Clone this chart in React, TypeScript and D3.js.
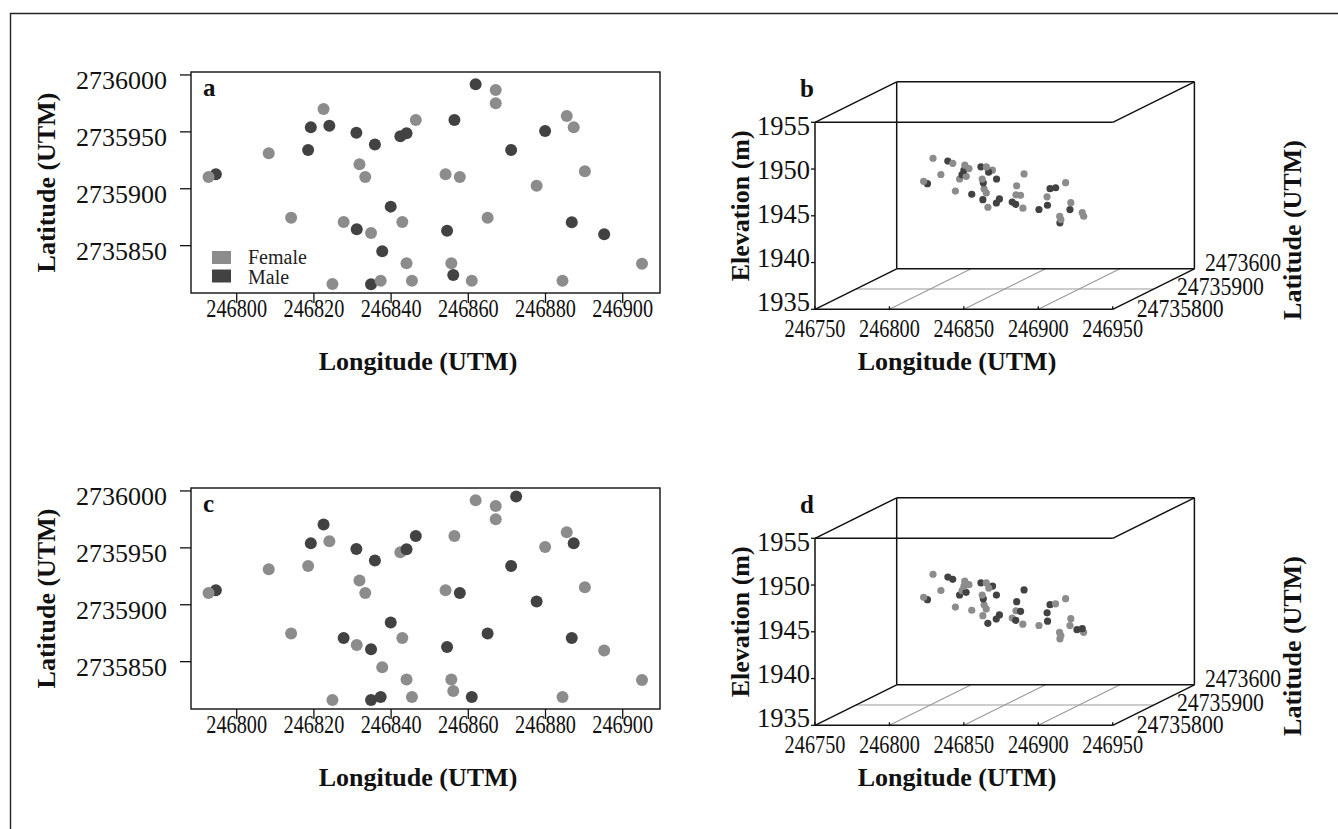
import React from 'react';
import * as d3 from 'd3';

const W = 1338;
const H = 829;
const FONT = '"Liberation Serif", "Times New Roman", serif';
const FEMALE = '#8c8c8c';
const MALE = '#424242';

// ---- tick values ----
const lonTicks2D = [246800, 246820, 246840, 246860, 246880, 246900];
const latTicks2D = [2735850, 2735900, 2735950, 2736000];
const lonTicks3D = [246750, 246800, 246850, 246900, 246950];
const elevTicks3D = [1935, 1940, 1945, 1950, 1955];
const latTicks3D = [2735800, 2735900, 2736000];
const latTickLabels3D = ['24735800', '24735900', '2473600'];
const sexLabels = ['Female', 'Male'];

// ---- panel a / b data ----
const aLon = [246861.9, 246867.1, 246867.1, 246822.5, 246819.2, 246824.0, 246831.0, 246835.8, 246842.4, 246844.0,
  246846.4, 246856.4, 246871.1, 246808.3, 246818.5, 246794.6, 246792.7, 246831.8, 246833.3, 246854.1,
  246857.8, 246839.9, 246814.1, 246827.7, 246831.1, 246834.8, 246842.9, 246854.5, 246865.0, 246837.7,
  246844.0, 246855.6, 246856.1, 246824.8, 246834.8, 246837.3, 246845.4, 246860.9, 246885.5, 246887.3,
  246879.9, 246890.2, 246877.7, 246886.8, 246895.2, 246905.0, 246884.4];
const aLat = [2735991.8, 2735986.8, 2735975.1, 2735970.1, 2735954.0, 2735955.4, 2735949.3, 2735938.8, 2735946.1, 2735948.8,
  2735960.5, 2735960.5, 2735934.1, 2735931.2, 2735934.1, 2735912.7, 2735910.4, 2735921.5, 2735910.4, 2735912.7,
  2735910.4, 2735884.3, 2735874.6, 2735870.8, 2735864.4, 2735861.2, 2735870.8, 2735863.2, 2735874.6, 2735845.1,
  2735834.5, 2735834.5, 2735824.3, 2735816.3, 2735816.1, 2735819.2, 2735819.2, 2735819.2, 2735964.0, 2735954.0,
  2735950.8, 2735915.4, 2735902.7, 2735870.6, 2735860.0, 2735834.2, 2735819.2];
const aSex = ['M', 'F', 'F', 'F', 'M', 'M', 'M', 'M', 'M', 'M',
  'F', 'M', 'M', 'F', 'M', 'M', 'F', 'F', 'F', 'F',
  'F', 'M', 'F', 'F', 'M', 'F', 'F', 'M', 'F', 'M',
  'F', 'F', 'M', 'F', 'M', 'F', 'F', 'F', 'F', 'F',
  'M', 'F', 'F', 'M', 'M', 'F', 'F'];
const aElev = [1940.1, 1944.5, 1940.8, 1946.2, 1946.9, 1946.3, 1945.7, 1943.8, 1943.3, 1943.0,
  1946.0, 1942.2, 1945.0, 1944.8, 1944.4, 1946.0, 1946.3, 1947.6, 1945.5, 1944.8,
  1944.8, 1946.7, 1947.8, 1947.4, 1948.0, 1947.9, 1947.4, 1945.0, 1946.6, 1948.9,
  1949.3, 1946.7, 1946.2, 1950.8, 1950.5, 1950.2, 1950.0, 1945.5, 1941.4, 1942.0,
  1942.4, 1943.9, 1944.8, 1944.6, 1946.7, 1944.2, 1945.4];

// ---- panel c / d data ----
const cLon = [246861.9, 246867.1, 246867.1, 246872.4, 246822.5, 246819.2, 246824.0, 246831.0, 246835.8, 246842.4,
  246844.0, 246846.4, 246856.4, 246871.1, 246808.3, 246818.5, 246794.6, 246792.7, 246831.8, 246833.3,
  246854.1, 246857.8, 246839.9, 246814.1, 246827.7, 246831.1, 246834.8, 246842.9, 246854.5, 246865.0,
  246837.7, 246844.0, 246855.6, 246856.1, 246824.8, 246834.8, 246837.3, 246845.4, 246860.9, 246885.5,
  246887.3, 246879.9, 246890.2, 246877.7, 246886.8, 246895.2, 246905.0, 246884.4];
const cLat = [2735991.8, 2735986.8, 2735975.1, 2735995.2, 2735970.5, 2735954.0, 2735955.8, 2735949.0, 2735938.8, 2735946.1,
  2735948.8, 2735960.5, 2735960.5, 2735934.1, 2735931.2, 2735934.1, 2735912.7, 2735910.4, 2735921.3, 2735910.4,
  2735912.7, 2735910.4, 2735884.4, 2735874.7, 2735870.8, 2735864.7, 2735860.9, 2735870.8, 2735862.9, 2735874.7,
  2735845.1, 2735834.3, 2735834.3, 2735824.3, 2735816.3, 2735816.3, 2735819.0, 2735819.0, 2735819.0, 2735963.7,
  2735954.0, 2735950.8, 2735915.4, 2735902.8, 2735870.8, 2735859.8, 2735833.9, 2735819.0];
const cSex = ['F', 'F', 'F', 'M', 'M', 'M', 'F', 'M', 'M', 'F',
  'M', 'M', 'F', 'M', 'F', 'F', 'M', 'F', 'F', 'F',
  'F', 'M', 'M', 'F', 'M', 'F', 'M', 'F', 'M', 'M',
  'F', 'F', 'F', 'F', 'F', 'M', 'M', 'F', 'M', 'F',
  'M', 'F', 'F', 'M', 'M', 'F', 'F', 'F'];
const cElev = [1940.1, 1944.5, 1940.8, 1941.0, 1946.2, 1946.9, 1946.3, 1945.7, 1943.8, 1943.3,
  1943.0, 1946.0, 1942.2, 1945.0, 1944.8, 1944.4, 1946.0, 1946.3, 1947.6, 1945.5,
  1944.8, 1944.8, 1946.7, 1947.8, 1947.4, 1948.0, 1947.9, 1947.4, 1945.0, 1946.6,
  1948.9, 1949.3, 1946.7, 1946.2, 1950.8, 1950.5, 1950.2, 1950.0, 1945.5, 1941.4,
  1942.0, 1942.4, 1943.9, 1944.8, 1944.6, 1946.7, 1944.2, 1945.4];

const sexColor = (s: string) => (s === 'F' ? FEMALE : MALE);

function Panel2D({ dy, lon, lat, sex, letter, legend }: any) {
  const x = d3.scaleLinear().domain([246788.16, 246909.66]).range([191, 660]);
  const y = d3.scaleLinear().domain([2735808.4, 2736002.6]).range([293 + dy, 72 + dy]);
  const [x0, x1] = x.range();
  const [y0, y1] = y.range(); // y0 bottom, y1 top
  return (
    <g>
      <rect x={x0} y={y1} width={x1 - x0} height={y0 - y1} fill="none" stroke="#111" strokeWidth={1.4} />
      {lonTicks2D.map((t) => (
        <g key={'xt' + t}>
          <line x1={x(t)} x2={x(t)} y1={y0} y2={y0 + 10} stroke="#111" strokeWidth={1.3} />
          <text transform={`translate(${x(t)},${y0 + 24}) scale(0.78,1)`} textAnchor="middle" fontSize={26} fontFamily={FONT} fill="#111">{t}</text>
        </g>
      ))}
      {latTicks2D.map((t) => (
        <g key={'yt' + t}>
          <line x1={x0 - 11} x2={x0} y1={y(t)} y2={y(t)} stroke="#111" strokeWidth={1.3} />
          <text x={x0 - 24} y={y(t) + 14} textAnchor="end" fontSize={26} fontFamily={FONT} fill="#111">{t}</text>
        </g>
      ))}
      {lon.map((v: number, i: number) => (
        <circle key={i} cx={x(v)} cy={y(lat[i])} r={6} fill={sexColor(sex[i])} />
      ))}
      <text x={203} y={96 + dy} fontSize={25} fontWeight="bold" fontFamily={FONT} fill="#111">{letter}</text>
      {legend && (
        <g>
          {sexLabels.map((s, i) => (
            <g key={s}>
              <rect x={212} y={251 + dy + i * 18.5} width={19} height={13} fill={i === 0 ? FEMALE : MALE} />
              <text x={248} y={264 + dy + i * 20} fontSize={20} fontFamily={FONT} fill="#222">{s}</text>
            </g>
          ))}
        </g>
      )}
      <text x={418} y={370 + dy} textAnchor="middle" fontSize={26} fontWeight="bold" fontFamily={FONT} fill="#111">Longitude (UTM)</text>
      <text transform={`translate(55,${182.5 + dy}) rotate(-90)`} textAnchor="middle" fontSize={26} fontWeight="bold" fontFamily={FONT} fill="#111">Latitude (UTM)</text>
    </g>
  );
}

function Panel3D({ dy, lon, lat, sex, elev, letter }: any) {
  const x = d3.scaleLinear().domain([246750, 246950]).range([815, 1112.7]);
  const z = d3.scaleLinear().domain([1935, 1955]).range([309.3 + dy, 122.3 + dy]);
  // label baselines sit on a slightly compressed scale in the reference
  const zLab = d3.scaleLinear().domain([1935, 1955]).range([310.7 + dy, 135 + dy]);
  const f = d3.scaleLinear().domain([2735800, 2736000]).range([0, 1]);
  const DX = 81.7;
  const DY = -40.5;
  const P = (lo: number, la: number, el: number): [number, number] => [x(lo) + f(la) * DX, z(el) + f(la) * DY];
  const xl = 246750, xr = 246950, zb = 1935, zt = 1955, lf = 2735800, lb = 2736000;
  const seg = (a: [number, number], b: [number, number], key: string, stroke = '#111', w = 1.5) => (
    <line key={key} x1={a[0]} y1={a[1]} x2={b[0]} y2={b[1]} stroke={stroke} strokeWidth={w} />
  );
  const lblOff = [[24, 7.4], [23.4, 6], [10.6, 1.9]];
  return (
    <g>
      {/* grid on floor */}
      {lonTicks3D.slice(1, -1).map((t) => seg(P(t, lf, zb), P(t, lb, zb), 'gx' + t, '#999', 1.1))}
      {latTicks3D.slice(1, -1).map((t) => seg(P(xl, t, zb), P(xr, t, zb), 'gy' + t, '#999', 1.1))}
      {/* box */}
      {seg(P(xl, lf, zb), P(xl, lf, zt), 'b1')}
      {seg(P(xl, lf, zt), P(xr, lf, zt), 'b2')}
      {seg(P(xl, lf, zb), P(xr, lf, zb), 'b3')}
      {seg(P(xl, lf, zt), P(xl, lb, zt), 'b4')}
      {seg(P(xr, lf, zt), P(xr, lb, zt), 'b5')}
      {seg(P(xl, lf, zb), P(xl, lb, zb), 'b6')}
      {seg(P(xr, lf, zb), P(xr, lb, zb), 'b7')}
      {seg(P(xl, lb, zt), P(xr, lb, zt), 'b8')}
      {seg(P(xl, lb, zb), P(xl, lb, zt), 'b9')}
      {seg(P(xl, lb, zb), P(xr, lb, zb), 'b10')}
      {seg(P(xr, lb, zb), P(xr, lb, zt), 'b11')}
      {/* x ticks */}
      {lonTicks3D.map((t) => (
        <g key={'xt' + t}>
          <line x1={x(t)} x2={x(t)} y1={z(zb)} y2={z(zb) - 3} stroke="#111" strokeWidth={1.3} />
          <text transform={`translate(${x(t)},${z(zb) + 27.2}) scale(0.78,1)`} textAnchor="middle" fontSize={26} fontFamily={FONT} fill="#111">{t}</text>
        </g>
      ))}
      {/* z ticks */}
      {elevTicks3D.map((t) => (
        <g key={'zt' + t}>
          <line x1={x(xl) - 4} x2={x(xl)} y1={z(t)} y2={z(t)} stroke="#111" strokeWidth={1.3} />
          <text x={x(xl) - 5} y={zLab(t)} textAnchor="end" fontSize={26.5} fontFamily={FONT} fill="#111">{t}</text>
        </g>
      ))}
      {/* depth tick labels */}
      {latTicks3D.map((t, i) => {
        const p = P(xr, t, zb);
        return (
          <text key={'dt' + t} transform={`translate(${p[0] + lblOff[i][0]},${p[1] + lblOff[i][1]}) scale(0.87,1)`} fontSize={25} fontFamily={FONT} fill="#111">{latTickLabels3D[i]}</text>
        );
      })}
      {lon.map((v: number, i: number) => {
        const p = P(v, lat[i], elev[i]);
        return <circle key={i} cx={p[0]} cy={p[1]} r={3.6} fill={sexColor(sex[i])} />;
      })}
      <text x={800} y={96.7 + dy} fontSize={25} fontWeight="bold" fontFamily={FONT} fill="#111">{letter}</text>
      <text x={957} y={370 + dy} textAnchor="middle" fontSize={26} fontWeight="bold" fontFamily={FONT} fill="#111">Longitude (UTM)</text>
      <text transform={`translate(749,${205.8 + dy}) rotate(-90)`} textAnchor="middle" fontSize={26} fontWeight="bold" fontFamily={FONT} fill="#111">Elevation (m)</text>
      <text transform={`translate(1301,${230 + dy}) rotate(-90)`} textAnchor="middle" fontSize={26} fontWeight="bold" fontFamily={FONT} fill="#111">Latitude (UTM)</text>
    </g>
  );
}

export default function App() {
  return (
    <svg width={W} height={H} style={{ position: 'absolute', left: 0, top: 0, background: '#fff' }}>
      <rect x={0} y={0} width={W} height={H} fill="#fff" />
      <path d={`M10.5,${H} V13.5 H${W}`} fill="none" stroke="#222" strokeWidth={1.4} />
      <Panel2D dy={0} lon={aLon} lat={aLat} sex={aSex} letter="a" legend />
      <Panel3D dy={0} lon={aLon} lat={aLat} sex={aSex} elev={aElev} letter="b" />
      <Panel2D dy={416} lon={cLon} lat={cLat} sex={cSex} letter="c" legend={false} />
      <Panel3D dy={416} lon={cLon} lat={cLat} sex={cSex} elev={cElev} letter="d" />
    </svg>
  );
}
